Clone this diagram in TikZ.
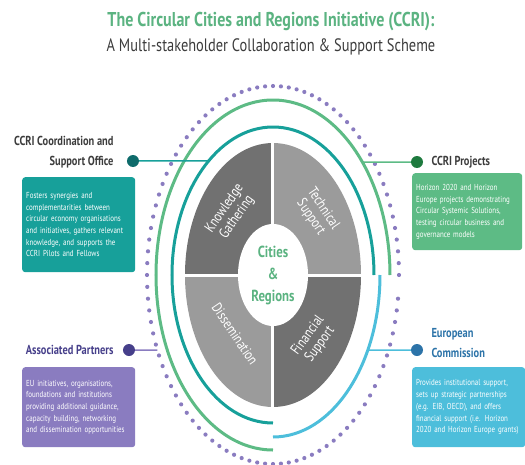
\documentclass[tikz,border=0pt]{standalone}
\usepackage{fontspec}
\setmainfont{PT Sans}[FakeStretch=0.8]
\definecolor{titlegreen}{HTML}{5BB381}
\definecolor{headgray}{HTML}{3C3C3C}
\definecolor{tealc}{HTML}{17A09A}
\definecolor{tealdark}{HTML}{0E6B6B}
\definecolor{greenc}{HTML}{5DBB85}
\definecolor{greendark}{HTML}{1E7A3E}
\definecolor{bluec}{HTML}{4DBEDB}
\definecolor{bluedark}{HTML}{2C73A8}
\definecolor{purplec}{HTML}{8A7CC0}
\definecolor{purpledark}{HTML}{463F8A}
\definecolor{graydark}{HTML}{717171}
\definecolor{graylight}{HTML}{9B9B9B}

\begin{document}
\begin{tikzpicture}[x=1pt, y=1pt,
  dotnode/.style={circle, inner sep=0pt, minimum size=12pt},
  heading/.style={font=\fontsize{13}{20}\selectfont\bfseries},
  infobox/.style={rounded corners=3pt, text=white, anchor=north west, align=left,
    inner xsep=4pt, text width=105pt, minimum width=113pt,
    font=\fontsize{8.7}{11.7}\selectfont},
  arcline/.style={line width=3pt},
  ringtext/.style={text=white, align=center, font=\fontsize{14.5}{15}\selectfont}]
\useasboundingbox (-273,-189) rectangle (252,275);

\node[text=titlegreen, font=\fontsize{20}{22}\selectfont\bfseries] (title) at (-2,253)
  {The Circular Cities and Regions Initiative (CCRI):};
\node[text=headgray, font=\fontsize{18}{20}\selectfont] (subtitle) at (-2,228)
  {A Multi-stakeholder Collaboration \& Support Scheme};

\foreach \a in {0,3.6,...,356.4}
  \fill[purplec] (\a:126pt and 189pt) circle (2.1pt);

\draw[arcline, greenc] (117pt,0) arc [start angle=0, end angle=270, x radius=117pt, y radius=175pt];
\draw[arcline, tealc] (101pt,0) arc [start angle=0, end angle=270, x radius=101pt, y radius=148pt];
\draw[arcline, bluec] (107pt,0) arc [start angle=0, end angle=-90, x radius=107pt, y radius=162pt];

\foreach \a/\c in {0/graylight, 90/graydark, 180/graylight, 270/graydark}
  \fill[\c] (0,0) -- (\a:88pt and 132pt) arc [start angle=\a, delta angle=90, x radius=88pt, y radius=132pt] -- cycle;
\draw[white, line width=3pt] (-92,0) -- (92,0) (0,-136) -- (0,136);
\fill[white] (0,0) ellipse [x radius=35pt, y radius=51pt];

\node[text=titlegreen, align=center, font=\fontsize{16}{22}\selectfont\bfseries] (cities) at (0,0) {Cities\\\&\\Regions};
\node[ringtext, rotate=55] (knowledge) at (-42,62) {Knowledge\\Gathering};
\node[ringtext, rotate=-56] (technical) at (44,62) {Technical\\Support};
\node[ringtext, rotate=-56] (dissem) at (-38,-59) {Dissemination};
\node[ringtext, rotate=54] (financial) at (41,-65) {Financial\\Support};

% stakeholders
\coordinate (officeend) at (129.6:101pt and 148pt);
\coordinate (projectsend) at (40.2:117pt and 175pt);
\coordinate (commissionend) at (-27.6:107pt and 162pt);
\coordinate (partnersend) at (203.4:126pt and 189pt);

\node[dotnode, fill=tealdark] (officedot) at (-140,114) {};
\node[dotnode, fill=greendark] (projectsdot) at (144,113) {};
\node[dotnode, fill=bluedark] (commissiondot) at (144,-75) {};
\node[dotnode, fill=purpledark] (partnersdot) at (-144,-75) {};
\draw[tealc, line width=1.5pt] (officedot) -- (officeend);
\draw[greenc, line width=1.5pt] (projectsdot) -- (projectsend);
\draw[bluec, line width=1.5pt] (commissiondot) -- (commissionend);
\draw[purplec, line width=1.5pt] (partnersdot) -- (partnersend);

\node[heading, text=headgray, align=right, anchor=east] (office) at (-156,123)
  {CCRI Coordination and\\Support Office};
\node[heading, text=headgray, anchor=west] (projects) at (155,113) {CCRI Projects};
\node[heading, text=bluedark, align=left, anchor=west] (commission) at (155,-68)
  {European\\Commission};
\node[heading, text=purpledark, anchor=east] (partners) at (-156,-75) {Associated Partners};

\node[infobox, fill=tealc, minimum height=95pt] (officebox) at (-251,98)
  {Fosters synergies and\\complementarities between\\circular economy organisations\\and initiatives, gathers relevant\\knowledge, and supports the\\CCRI Pilots and Fellows};
\node[infobox, fill=greenc, minimum height=77pt, minimum width=110pt, text width=102pt] (projectsbox) at (139,102)
  {Horizon 2020 and Horizon\\Europe projects demonstrating\\Circular Systemic Solutions,\\testing circular business and\\governance models};
\node[infobox, fill=bluec, minimum height=80pt] (commissionbox) at (139,-92)
  {Provides institutional support,\\sets up strategic partnerships\\(e.g. EIB, OECD), and offers\\financial support (i.e. Horizon\\2020 and Horizon Europe grants)};
\node[infobox, fill=purplec, minimum height=80pt] (partnersbox) at (-251,-92)
  {EU initiatives, organisations,\\foundations and institutions\\providing additional guidance,\\capacity building, networking\\and dissemination opportunities};
\end{tikzpicture}
\end{document}
